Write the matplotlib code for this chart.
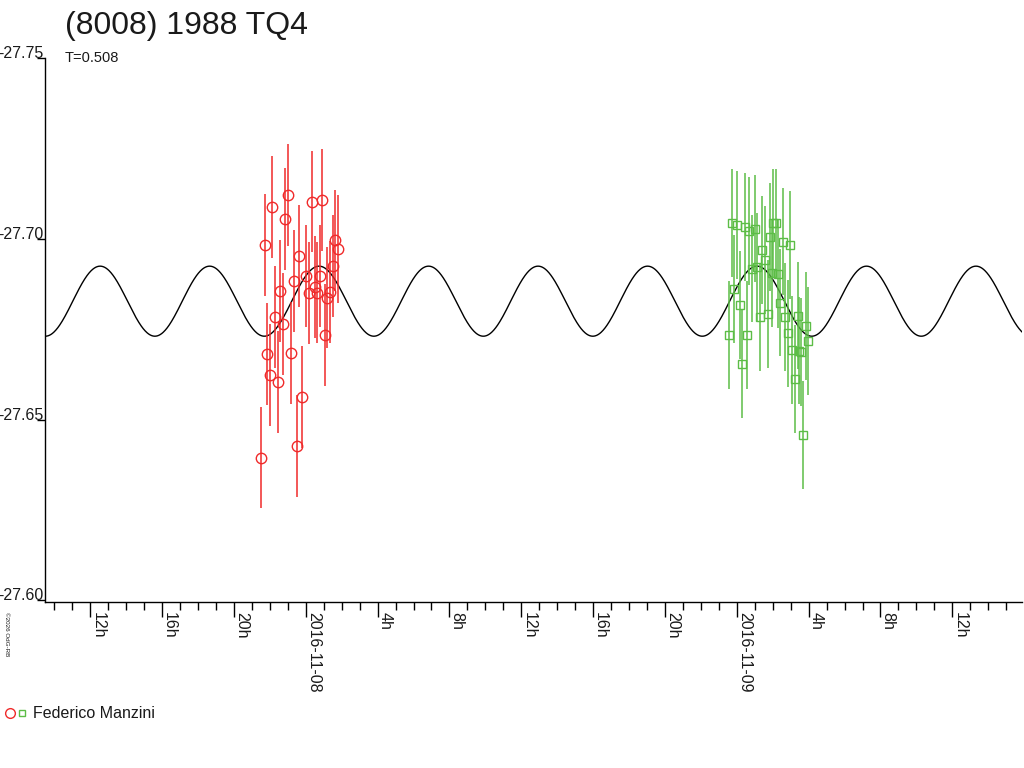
import datetime as dt
import numpy as np
import matplotlib
matplotlib.use("Agg")
import matplotlib.pyplot as plt
import matplotlib.dates as mdates
from matplotlib.ticker import FuncFormatter, FixedLocator

plt.rcParams['font.family'] = ['Liberation Sans', 'DejaVu Sans']

# ---- data: hours since 2016-11-08 00:00 UT, magnitudes, errors ----
red_hours = [-2.489, -2.266, -2.138, -2.004, -1.860, -1.709, -1.559, -1.414, -1.264,
             -1.136, -0.969, -0.835, -0.651, -0.501, -0.356, -0.206, 0.033, 0.167,
             0.351, 0.501, 0.646, 0.796, 0.924, 1.091, 1.203, 1.353, 1.520, 1.648, 1.815]
red_mag = [-27.6395, -27.6983, -27.6682, -27.6623, -27.7089, -27.6785, -27.6604, -27.6856,
           -27.6765, -27.7055, -27.7122, -27.6685, -27.6884, -27.6427, -27.6953, -27.6562,
           -27.6898, -27.6851, -27.7104, -27.6868, -27.6852, -27.6898, -27.7109, -27.6734,
           -27.6838, -27.6854, -27.6926, -27.6997, -27.6972]
red_err = [0.0141, 0.0141, 0.0141, 0.0142, 0.0141, 0.0141, 0.0142, 0.0141, 0.0141,
           0.0141, 0.0142, 0.0141, 0.0140, 0.0141, 0.0140, 0.0141, 0.0141, 0.0141,
           0.0140, 0.0141, 0.0141, 0.0141, 0.0141, 0.0142, 0.0141, 0.0141, 0.0141,
           0.0140, 0.0150]

green_hours = [23.569, 23.719, 23.864, 24.014, 24.165, 24.293, 24.443, 24.571, 24.699,
               24.850, 25.017, 25.145, 25.278, 25.390, 25.573, 25.741, 25.852, 25.980,
               26.036, 26.169, 26.314, 26.409, 26.559, 26.704, 26.837, 26.966, 27.094,
               27.261, 27.394, 27.450, 27.595, 27.689, 27.840, 27.968]
green_mag = [-27.6735, -27.7045, -27.6862, -27.7039, -27.6818, -27.6654, -27.7034, -27.6735,
             -27.7023, -27.6918, -27.7029, -27.6922, -27.6783, -27.6970, -27.6942, -27.6793,
             -27.7006, -27.6905, -27.7045, -27.7045, -27.6904, -27.6824, -27.6993, -27.6785,
             -27.6739, -27.6983, -27.6693, -27.6613, -27.6788, -27.6691, -27.6687, -27.6458,
             -27.6760, -27.6717]
green_err = [0.0149] * len(green_hours)

observer = "Federico Manzini"
title = "(8008) 1988 TQ4"
period_days = 0.508
# model light curve parameters (fitted)
model_mean = -27.6828
model_amp = 0.0097
model_epoch_h = -11.45   # time of a brightness maximum

ytick_values = [-27.75, -27.70, -27.65, -27.60]
base = dt.datetime(2016, 11, 8, 0, 0)
xlim_hours = (-14.52, 39.88)
ylim = (-27.5995, -27.7500)

def to_dt(hours):
    return [base + dt.timedelta(hours=h) for h in hours]

red_c = '#f02a2a'
green_c = '#5cbd46'
text_c = '#1a1a1a'

fig = plt.figure(figsize=(10.24, 7.68), dpi=100)
ax = fig.add_axes([45/1024, (768-602)/768, (1022-45)/1024, (602-58.5)/768])

# model curve
th = np.linspace(xlim_hours[0], xlim_hours[1], 2000)
model = model_mean - model_amp * np.cos(4*np.pi*(th - model_epoch_h)/(period_days*24))
ax.plot(to_dt(th), model, color='black', lw=1.0, zorder=2)

ax.errorbar(to_dt(red_hours), red_mag, yerr=red_err, fmt='o', ms=7.5, mfc='none',
            mec=red_c, mew=1.0, ecolor=red_c, elinewidth=1.1, capsize=0, zorder=3)
ax.errorbar(to_dt(green_hours), green_mag, yerr=green_err, fmt='s', ms=5.8, mfc='none',
            mec=green_c, mew=1.0, ecolor=green_c, elinewidth=1.1, capsize=0, zorder=3)

ax.set_xlim(to_dt(xlim_hours))
ax.set_ylim(*ylim)

for s in ['top', 'right']:
    ax.spines[s].set_visible(False)
for s in ['left', 'bottom']:
    ax.spines[s].set_linewidth(1.0)

ax.xaxis.set_major_locator(mdates.HourLocator(byhour=range(0, 24, 4)))
ax.xaxis.set_minor_locator(mdates.HourLocator())

def fmt(x, pos):
    d = mdates.num2date(x)
    if d.hour == 0:
        return d.strftime('%Y-%m-%d')
    return f'{d.hour}h'
ax.xaxis.set_major_formatter(FuncFormatter(fmt))
ax.tick_params(axis='x', which='major', length=11, width=1, pad=-4, labelsize=11.5,
               labelrotation=270, labelcolor=text_c)
ax.tick_params(axis='x', which='minor', length=6, width=1)
for lab in ax.get_xticklabels():
    lab.set_ha('left')
    lab.set_va('top')

ax.yaxis.set_major_locator(FixedLocator(ytick_values))
ax.yaxis.set_major_formatter(FuncFormatter(lambda v, p: f'{v:.2f}'))
ax.tick_params(axis='y', which='major', length=6, width=1, pad=-5, labelsize=11.5,
               labelcolor=text_c)
for lab in ax.get_yticklabels():
    lab.set_va('baseline')

fig.text(65/1024, 1 - 11/768, title, fontsize=23, ha='left', va='top', color=text_c)
fig.text(65/1024, 1 - 51/768, f'T={period_days:.3f}', fontsize=10.5, ha='left', va='top',
         color=text_c)
fig.text(4/1024, 1 - 612/768, '©2026 OdG-RB', fontsize=4.5, rotation=270, ha='left',
         va='top', color=text_c)

# legend
fig.lines.append(plt.Line2D([10/1024], [1 - 713/768], transform=fig.transFigure,
                            marker='o', ms=7, mfc='none', mec=red_c, mew=1.0, ls='none'))
fig.lines.append(plt.Line2D([22/1024], [1 - 713/768], transform=fig.transFigure,
                            marker='s', ms=5, mfc='none', mec=green_c, mew=1.0, ls='none'))
fig.text(33/1024, 1 - 713/768, observer, fontsize=11.5, ha='left', va='center',
         color=text_c)

fig.savefig('out.png', dpi=100)
